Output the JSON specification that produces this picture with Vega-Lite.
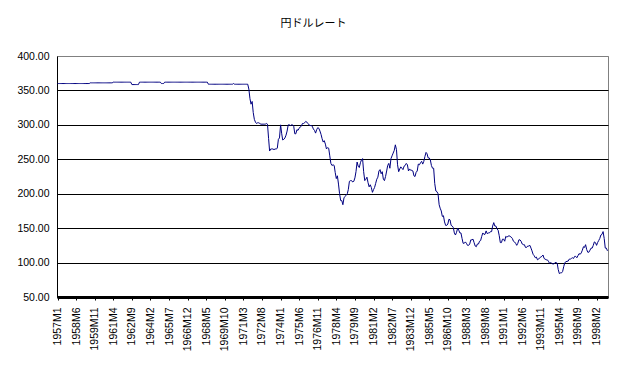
{
"$schema":"https://vega.github.io/schema/vega-lite/v6.json",
"autosize":{"type":"none"},
"padding":{"left":57,"top":56,"right":15,"bottom":70},
"width":551,"height":241,
"background":"white",
"title":{"text":"円ドルレート","font":"Noto Sans CJK JP","fontSize":11,"fontWeight":"normal","color":"black","anchor":"middle","frame":"group","offset":22,"dx":-19},
"config":{"view":{"stroke":"#808080","strokeWidth":1}},
"data":{"values":[
{"m":"1957-01","v":360},{"m":"1957-02","v":360},{"m":"1957-03","v":360},{"m":"1957-04","v":360},{"m":"1957-05","v":360},{"m":"1957-06","v":360},{"m":"1957-07","v":360},{"m":"1957-08","v":360},{"m":"1957-09","v":360},{"m":"1957-10","v":360},{"m":"1957-11","v":360},{"m":"1957-12","v":360},
{"m":"1958-01","v":360},{"m":"1958-02","v":360},{"m":"1958-03","v":360},{"m":"1958-04","v":360},{"m":"1958-05","v":360},{"m":"1958-06","v":360},{"m":"1958-07","v":360},{"m":"1958-08","v":360},{"m":"1958-09","v":360},{"m":"1958-10","v":360},{"m":"1958-11","v":360},{"m":"1958-12","v":360},
{"m":"1959-01","v":360},{"m":"1959-02","v":360},{"m":"1959-03","v":360},{"m":"1959-04","v":360},{"m":"1959-05","v":360},{"m":"1959-06","v":360},{"m":"1959-07","v":361},{"m":"1959-08","v":361},{"m":"1959-09","v":361},{"m":"1959-10","v":361},{"m":"1959-11","v":361},{"m":"1959-12","v":361},
{"m":"1960-01","v":361},{"m":"1960-02","v":361},{"m":"1960-03","v":361},{"m":"1960-04","v":361},{"m":"1960-05","v":361},{"m":"1960-06","v":361},{"m":"1960-07","v":361},{"m":"1960-08","v":361},{"m":"1960-09","v":361},{"m":"1960-10","v":361},{"m":"1960-11","v":361},{"m":"1960-12","v":361},
{"m":"1961-01","v":361},{"m":"1961-02","v":361},{"m":"1961-03","v":361},{"m":"1961-04","v":362},{"m":"1961-05","v":362},{"m":"1961-06","v":362},{"m":"1961-07","v":362},{"m":"1961-08","v":362},{"m":"1961-09","v":362},{"m":"1961-10","v":362},{"m":"1961-11","v":362},{"m":"1961-12","v":362},
{"m":"1962-01","v":362},{"m":"1962-02","v":362},{"m":"1962-03","v":362},{"m":"1962-04","v":362},{"m":"1962-05","v":362},{"m":"1962-06","v":362},{"m":"1962-07","v":362},{"m":"1962-08","v":362},{"m":"1962-09","v":358.5},{"m":"1962-10","v":358.5},{"m":"1962-11","v":358.5},{"m":"1962-12","v":358.5},
{"m":"1963-01","v":358.5},{"m":"1963-02","v":358.5},{"m":"1963-03","v":358.5},{"m":"1963-04","v":362},{"m":"1963-05","v":362},{"m":"1963-06","v":362},{"m":"1963-07","v":362},{"m":"1963-08","v":362},{"m":"1963-09","v":362},{"m":"1963-10","v":362},{"m":"1963-11","v":362},{"m":"1963-12","v":362},
{"m":"1964-01","v":362},{"m":"1964-02","v":362},{"m":"1964-03","v":362},{"m":"1964-04","v":362},{"m":"1964-05","v":362},{"m":"1964-06","v":362},{"m":"1964-07","v":362},{"m":"1964-08","v":362},{"m":"1964-09","v":362},{"m":"1964-10","v":362},{"m":"1964-11","v":362},{"m":"1964-12","v":360},
{"m":"1965-01","v":360},{"m":"1965-02","v":360},{"m":"1965-03","v":362},{"m":"1965-04","v":362},{"m":"1965-05","v":362},{"m":"1965-06","v":362},{"m":"1965-07","v":362},{"m":"1965-08","v":362},{"m":"1965-09","v":362},{"m":"1965-10","v":362},{"m":"1965-11","v":362},{"m":"1965-12","v":362},
{"m":"1966-01","v":362},{"m":"1966-02","v":362},{"m":"1966-03","v":362},{"m":"1966-04","v":362},{"m":"1966-05","v":362},{"m":"1966-06","v":362},{"m":"1966-07","v":362},{"m":"1966-08","v":362},{"m":"1966-09","v":362},{"m":"1966-10","v":362},{"m":"1966-11","v":362},{"m":"1966-12","v":362},
{"m":"1967-01","v":362},{"m":"1967-02","v":362},{"m":"1967-03","v":362},{"m":"1967-04","v":362},{"m":"1967-05","v":362},{"m":"1967-06","v":362},{"m":"1967-07","v":362},{"m":"1967-08","v":362},{"m":"1967-09","v":362},{"m":"1967-10","v":362},{"m":"1967-11","v":362},{"m":"1967-12","v":362},
{"m":"1968-01","v":362},{"m":"1968-02","v":362},{"m":"1968-03","v":362},{"m":"1968-04","v":362},{"m":"1968-05","v":362},{"m":"1968-06","v":362},{"m":"1968-07","v":359},{"m":"1968-08","v":359},{"m":"1968-09","v":359},{"m":"1968-10","v":359},{"m":"1968-11","v":359},{"m":"1968-12","v":359},
{"m":"1969-01","v":359},{"m":"1969-02","v":359},{"m":"1969-03","v":359},{"m":"1969-04","v":359},{"m":"1969-05","v":359},{"m":"1969-06","v":359},{"m":"1969-07","v":359},{"m":"1969-08","v":359},{"m":"1969-09","v":359},{"m":"1969-10","v":359},{"m":"1969-11","v":359},{"m":"1969-12","v":359},
{"m":"1970-01","v":359},{"m":"1970-02","v":359},{"m":"1970-03","v":359},{"m":"1970-04","v":359},{"m":"1970-05","v":359},{"m":"1970-06","v":360},{"m":"1970-07","v":359},{"m":"1970-08","v":359},{"m":"1970-09","v":359},{"m":"1970-10","v":359},{"m":"1970-11","v":359},{"m":"1970-12","v":359},
{"m":"1971-01","v":359},{"m":"1971-02","v":359},{"m":"1971-03","v":359},{"m":"1971-04","v":359},{"m":"1971-05","v":359},{"m":"1971-06","v":359},{"m":"1971-07","v":359},{"m":"1971-08","v":352},{"m":"1971-09","v":338},{"m":"1971-10","v":330},{"m":"1971-11","v":334},{"m":"1971-12","v":318},
{"m":"1972-01","v":308},{"m":"1972-02","v":304},{"m":"1972-03","v":302},{"m":"1972-04","v":303},{"m":"1972-05","v":303},{"m":"1972-06","v":302},{"m":"1972-07","v":301},{"m":"1972-08","v":301},{"m":"1972-09","v":301},{"m":"1972-10","v":301},{"m":"1972-11","v":301},{"m":"1972-12","v":302},
{"m":"1973-01","v":301},{"m":"1973-02","v":280},{"m":"1973-03","v":262},{"m":"1973-04","v":265},{"m":"1973-05","v":265},{"m":"1973-06","v":265},{"m":"1973-07","v":264},{"m":"1973-08","v":265},{"m":"1973-09","v":265},{"m":"1973-10","v":266},{"m":"1973-11","v":279},{"m":"1973-12","v":281},
{"m":"1974-01","v":300},{"m":"1974-02","v":287},{"m":"1974-03","v":278},{"m":"1974-04","v":279},{"m":"1974-05","v":281},{"m":"1974-06","v":285},{"m":"1974-07","v":291},{"m":"1974-08","v":300},{"m":"1974-09","v":300},{"m":"1974-10","v":299},{"m":"1974-11","v":300},{"m":"1974-12","v":300},
{"m":"1975-01","v":298},{"m":"1975-02","v":287},{"m":"1975-03","v":287},{"m":"1975-04","v":293},{"m":"1975-05","v":292},{"m":"1975-06","v":295},{"m":"1975-07","v":297},{"m":"1975-08","v":298},{"m":"1975-09","v":302},{"m":"1975-10","v":302},{"m":"1975-11","v":303},{"m":"1975-12","v":305},
{"m":"1976-01","v":304},{"m":"1976-02","v":302},{"m":"1976-03","v":300},{"m":"1976-04","v":299},{"m":"1976-05","v":299},{"m":"1976-06","v":298},{"m":"1976-07","v":294},{"m":"1976-08","v":292},{"m":"1976-09","v":288},{"m":"1976-10","v":293},{"m":"1976-11","v":296},{"m":"1976-12","v":295},
{"m":"1977-01","v":291},{"m":"1977-02","v":286},{"m":"1977-03","v":280},{"m":"1977-04","v":275},{"m":"1977-05","v":277},{"m":"1977-06","v":272},{"m":"1977-07","v":265},{"m":"1977-08","v":267},{"m":"1977-09","v":266},{"m":"1977-10","v":255},{"m":"1977-11","v":244},{"m":"1977-12","v":241},
{"m":"1978-01","v":242},{"m":"1978-02","v":241},{"m":"1978-03","v":231},{"m":"1978-04","v":222},{"m":"1978-05","v":226},{"m":"1978-06","v":214},{"m":"1978-07","v":200},{"m":"1978-08","v":190},{"m":"1978-09","v":190},{"m":"1978-10","v":184},{"m":"1978-11","v":194},{"m":"1978-12","v":196},
{"m":"1979-01","v":198},{"m":"1979-02","v":200},{"m":"1979-03","v":206},{"m":"1979-04","v":218},{"m":"1979-05","v":219},{"m":"1979-06","v":219},{"m":"1979-07","v":217},{"m":"1979-08","v":218},{"m":"1979-09","v":223},{"m":"1979-10","v":232},{"m":"1979-11","v":246},{"m":"1979-12","v":240},
{"m":"1980-01","v":238},{"m":"1980-02","v":245},{"m":"1980-03","v":249},{"m":"1980-04","v":251},{"m":"1980-05","v":232},{"m":"1980-06","v":219},{"m":"1980-07","v":221},{"m":"1980-08","v":224},{"m":"1980-09","v":216},{"m":"1980-10","v":210},{"m":"1980-11","v":213},{"m":"1980-12","v":209},
{"m":"1981-01","v":202},{"m":"1981-02","v":206},{"m":"1981-03","v":209},{"m":"1981-04","v":215},{"m":"1981-05","v":221},{"m":"1981-06","v":224},{"m":"1981-07","v":233},{"m":"1981-08","v":235},{"m":"1981-09","v":229},{"m":"1981-10","v":232},{"m":"1981-11","v":221},{"m":"1981-12","v":219},
{"m":"1982-01","v":225},{"m":"1982-02","v":233},{"m":"1982-03","v":241},{"m":"1982-04","v":244},{"m":"1982-05","v":237},{"m":"1982-06","v":251},{"m":"1982-07","v":255},{"m":"1982-08","v":259},{"m":"1982-09","v":263},{"m":"1982-10","v":271},{"m":"1982-11","v":264},{"m":"1982-12","v":242},
{"m":"1983-01","v":232},{"m":"1983-02","v":236},{"m":"1983-03","v":239},{"m":"1983-04","v":237},{"m":"1983-05","v":235},{"m":"1983-06","v":240},{"m":"1983-07","v":241},{"m":"1983-08","v":244},{"m":"1983-09","v":242},{"m":"1983-10","v":233},{"m":"1983-11","v":236},{"m":"1983-12","v":234},
{"m":"1984-01","v":234},{"m":"1984-02","v":233},{"m":"1984-03","v":226},{"m":"1984-04","v":225},{"m":"1984-05","v":231},{"m":"1984-06","v":233},{"m":"1984-07","v":243},{"m":"1984-08","v":242},{"m":"1984-09","v":245},{"m":"1984-10","v":247},{"m":"1984-11","v":243},{"m":"1984-12","v":247},
{"m":"1985-01","v":254},{"m":"1985-02","v":260},{"m":"1985-03","v":258},{"m":"1985-04","v":252},{"m":"1985-05","v":252},{"m":"1985-06","v":249},{"m":"1985-07","v":241},{"m":"1985-08","v":237},{"m":"1985-09","v":237},{"m":"1985-10","v":215},{"m":"1985-11","v":204},{"m":"1985-12","v":203},
{"m":"1986-01","v":200},{"m":"1986-02","v":184},{"m":"1986-03","v":179},{"m":"1986-04","v":175},{"m":"1986-05","v":167},{"m":"1986-06","v":168},{"m":"1986-07","v":159},{"m":"1986-08","v":154},{"m":"1986-09","v":154},{"m":"1986-10","v":156},{"m":"1986-11","v":163},{"m":"1986-12","v":162},
{"m":"1987-01","v":154},{"m":"1987-02","v":153},{"m":"1987-03","v":151},{"m":"1987-04","v":143},{"m":"1987-05","v":140},{"m":"1987-06","v":144},{"m":"1987-07","v":150},{"m":"1987-08","v":147},{"m":"1987-09","v":143},{"m":"1987-10","v":143},{"m":"1987-11","v":135},{"m":"1987-12","v":128},
{"m":"1988-01","v":128},{"m":"1988-02","v":130},{"m":"1988-03","v":128},{"m":"1988-04","v":125},{"m":"1988-05","v":125},{"m":"1988-06","v":127},{"m":"1988-07","v":133},{"m":"1988-08","v":133},{"m":"1988-09","v":134},{"m":"1988-10","v":129},{"m":"1988-11","v":124},{"m":"1988-12","v":123},
{"m":"1989-01","v":127},{"m":"1989-02","v":127},{"m":"1989-03","v":131},{"m":"1989-04","v":132},{"m":"1989-05","v":138},{"m":"1989-06","v":143},{"m":"1989-07","v":141},{"m":"1989-08","v":141},{"m":"1989-09","v":146},{"m":"1989-10","v":142},{"m":"1989-11","v":143},{"m":"1989-12","v":143},
{"m":"1990-01","v":145},{"m":"1990-02","v":145},{"m":"1990-03","v":153},{"m":"1990-04","v":158},{"m":"1990-05","v":153},{"m":"1990-06","v":153},{"m":"1990-07","v":149},{"m":"1990-08","v":147},{"m":"1990-09","v":139},{"m":"1990-10","v":129},{"m":"1990-11","v":129},{"m":"1990-12","v":134},
{"m":"1991-01","v":134},{"m":"1991-02","v":131},{"m":"1991-03","v":138},{"m":"1991-04","v":137},{"m":"1991-05","v":138},{"m":"1991-06","v":139},{"m":"1991-07","v":138},{"m":"1991-08","v":137},{"m":"1991-09","v":135},{"m":"1991-10","v":131},{"m":"1991-11","v":130},{"m":"1991-12","v":128},
{"m":"1992-01","v":125},{"m":"1992-02","v":128},{"m":"1992-03","v":133},{"m":"1992-04","v":133},{"m":"1992-05","v":131},{"m":"1992-06","v":127},{"m":"1992-07","v":126},{"m":"1992-08","v":126},{"m":"1992-09","v":122},{"m":"1992-10","v":122},{"m":"1992-11","v":124},{"m":"1992-12","v":124},
{"m":"1993-01","v":125},{"m":"1993-02","v":121},{"m":"1993-03","v":117},{"m":"1993-04","v":112},{"m":"1993-05","v":110},{"m":"1993-06","v":107},{"m":"1993-07","v":108},{"m":"1993-08","v":104},{"m":"1993-09","v":105},{"m":"1993-10","v":107},{"m":"1993-11","v":108},{"m":"1993-12","v":109},
{"m":"1994-01","v":111},{"m":"1994-02","v":106},{"m":"1994-03","v":105},{"m":"1994-04","v":104},{"m":"1994-05","v":104},{"m":"1994-06","v":102},{"m":"1994-07","v":99},{"m":"1994-08","v":100},{"m":"1994-09","v":99},{"m":"1994-10","v":98},{"m":"1994-11","v":98},{"m":"1994-12","v":100},
{"m":"1995-01","v":100},{"m":"1995-02","v":99},{"m":"1995-03","v":90},{"m":"1995-04","v":84},{"m":"1995-05","v":85},{"m":"1995-06","v":85},{"m":"1995-07","v":87},{"m":"1995-08","v":94},{"m":"1995-09","v":100},{"m":"1995-10","v":101},{"m":"1995-11","v":102},{"m":"1995-12","v":102},
{"m":"1996-01","v":105},{"m":"1996-02","v":105},{"m":"1996-03","v":106},{"m":"1996-04","v":107},{"m":"1996-05","v":106},{"m":"1996-06","v":109},{"m":"1996-07","v":109},{"m":"1996-08","v":107},{"m":"1996-09","v":110},{"m":"1996-10","v":113},{"m":"1996-11","v":112},{"m":"1996-12","v":114},
{"m":"1997-01","v":118},{"m":"1997-02","v":123},{"m":"1997-03","v":122},{"m":"1997-04","v":126},{"m":"1997-05","v":119},{"m":"1997-06","v":115},{"m":"1997-07","v":115},{"m":"1997-08","v":118},{"m":"1997-09","v":121},{"m":"1997-10","v":121},{"m":"1997-11","v":125},{"m":"1997-12","v":130},
{"m":"1998-01","v":129},{"m":"1998-02","v":125},{"m":"1998-03","v":129},{"m":"1998-04","v":132},{"m":"1998-05","v":135},{"m":"1998-06","v":140},{"m":"1998-07","v":141},{"m":"1998-08","v":145},{"m":"1998-09","v":135},{"m":"1998-10","v":121},{"m":"1998-11","v":121},{"m":"1998-12","v":117}
]},
"mark":{"type":"line","color":"#000080","strokeWidth":1,"interpolate":"linear"},
"encoding":{
"x":{"field":"m","type":"temporal","title":null,
"scale":{"type":"utc","nice":false,"domain":[{"year":1956,"month":12,"date":16,"utc":true},{"year":1998,"month":12,"date":16,"utc":true}]},
"axis":{"values":[
{"year":1957,"month":1,"date":1,"utc":true},{"year":1958,"month":6,"date":1,"utc":true},{"year":1959,"month":11,"date":1,"utc":true},{"year":1961,"month":4,"date":1,"utc":true},{"year":1962,"month":9,"date":1,"utc":true},{"year":1964,"month":2,"date":1,"utc":true},{"year":1965,"month":7,"date":1,"utc":true},{"year":1966,"month":12,"date":1,"utc":true},{"year":1968,"month":5,"date":1,"utc":true},{"year":1969,"month":10,"date":1,"utc":true},{"year":1971,"month":3,"date":1,"utc":true},{"year":1972,"month":8,"date":1,"utc":true},{"year":1974,"month":1,"date":1,"utc":true},{"year":1975,"month":6,"date":1,"utc":true},{"year":1976,"month":11,"date":1,"utc":true},{"year":1978,"month":4,"date":1,"utc":true},{"year":1979,"month":9,"date":1,"utc":true},{"year":1981,"month":2,"date":1,"utc":true},{"year":1982,"month":7,"date":1,"utc":true},{"year":1983,"month":12,"date":1,"utc":true},{"year":1985,"month":5,"date":1,"utc":true},{"year":1986,"month":10,"date":1,"utc":true},{"year":1988,"month":3,"date":1,"utc":true},{"year":1989,"month":8,"date":1,"utc":true},{"year":1991,"month":1,"date":1,"utc":true},{"year":1992,"month":6,"date":1,"utc":true},{"year":1993,"month":11,"date":1,"utc":true},{"year":1995,"month":4,"date":1,"utc":true},{"year":1996,"month":9,"date":1,"utc":true},{"year":1998,"month":2,"date":1,"utc":true}],
"labelExpr":"utcFormat(datum.value, '%Y') + 'M' + (utcmonth(datum.value) + 1)",
"labelAngle":270,"labelOverlap":false,"labelFlush":false,"labelBound":false,
"labelFont":"Liberation Sans","labelFontSize":10.5,"labelColor":"black","labelPadding":7,
"grid":false,"domainColor":"black","domainWidth":3,"tickColor":"black","tickSize":3,"tickWidth":1}},
"y":{"field":"v","type":"quantitative","title":null,
"scale":{"domain":[50,400],"nice":false,"zero":false},
"axis":{"values":[50,100,150,200,250,300,350,400],"format":".2f",
"labelFont":"Liberation Sans","labelFontSize":10.5,"labelColor":"black","labelPadding":8,
"ticks":false,"domainColor":"black","domainWidth":1,
"grid":true,"gridColor":{"condition":{"test":"datum.value === 400","value":"#808080"},"value":"black"},"gridWidth":1,"gridOpacity":1}}
}
}
